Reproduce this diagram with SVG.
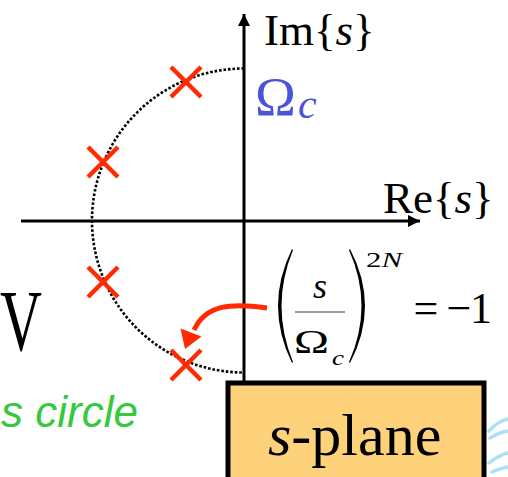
<svg xmlns="http://www.w3.org/2000/svg" width="508" height="477" viewBox="0 0 508 477">
<style>
.serif{font-family:"Liberation Serif","Times New Roman",serif;fill:#000}
.it{font-style:italic}
.axis{stroke:#000;stroke-width:3;fill:none}
.pole{stroke:#ff2a00;stroke-width:4.5;fill:none}
</style>
<defs>
<marker id="ah" viewBox="0 0 10 10" refX="10" refY="5" markerWidth="4" markerHeight="4" orient="auto" markerUnits="strokeWidth"><path d="M0,0 L10,5 L0,10 Z" fill="#000"/></marker>
</defs>
<rect width="508" height="477" fill="#fff"/>
<g id="axes">
<line class="axis" x1="21" y1="221" x2="420" y2="221" marker-end="url(#ah)"/>
<line class="axis" x1="244" y1="382" x2="244" y2="14" marker-end="url(#ah)"/>
</g>
<g id="circle">
<path d="M244 68.5 A152 152 0 0 0 244 372.5" fill="none" stroke="#000" stroke-width="2.6" stroke-dasharray="2.6 1.9"/>
</g>
<g id="poles">
<path class="pole" d="M171 67 L201 97 M171 97 L201 67"/>
<path class="pole" d="M88 147 L118 177 M88 177 L118 147"/>
<path class="pole" d="M88 267 L118 297 M88 297 L118 267"/>
<path class="pole" d="M171 350 L201 380 M171 380 L201 350"/>
</g>
<g id="im-label"><text class="serif" x="264" y="45" font-size="45">Im{<tspan class="it">s</tspan>}</text></g>
<g id="re-label"><text class="serif" x="383" y="213" font-size="45">Re{<tspan class="it">s</tspan>}</text></g>
<g id="omega-c"><text x="255" y="115" font-size="55" font-family="Liberation Serif, serif" fill="#4b53d8">Ω<tspan class="it" font-size="42" dx="2" dy="3">c</tspan></text></g>
<g id="left-V"><text class="serif" x="0" y="350" font-size="86" textLength="42" lengthAdjust="spacingAndGlyphs">V</text></g>
<g id="circle-label"><text x="138" y="427" font-size="44" font-style="italic" font-family="Liberation Sans, Arial, sans-serif" fill="#36c940" text-anchor="end">s circle</text></g>
<g id="formula">
<path d="M292 249 Q264 306 292 363 L293 362 Q270 306 293 250 Z" fill="#000"/>
<path d="M350 249 Q380 306 350 363 L349 362 Q374 306 349 250 Z" fill="#000"/>
<text class="serif it" x="320" y="298" font-size="36" text-anchor="middle">s</text>
<line x1="295" y1="312" x2="345" y2="312" stroke="#808080" stroke-width="1.6"/>
<text class="serif" x="294" y="353" font-size="33" textLength="35" lengthAdjust="spacingAndGlyphs">Ω</text>
<text class="serif it" x="332" y="365" font-size="22" textLength="12" lengthAdjust="spacingAndGlyphs">c</text>
<text class="serif" x="366" y="267" font-size="21" textLength="36" lengthAdjust="spacingAndGlyphs">2<tspan class="it">N</tspan></text>
<text class="serif" x="413.5" y="323" font-size="44">=</text>
<text class="serif" x="446.5" y="323" font-size="44">−</text>
<text class="serif" x="470" y="323" font-size="44">1</text>
</g>
<g id="connectors">
<path d="M267 308 C232 303 206 304 194 330" fill="none" stroke="#ff2a00" stroke-width="5"/>
<path d="M185 349 L180.5 328.5 L201.5 336.5 Z" fill="#ff2a00"/>
</g>
<g id="s-plane">
<rect x="228" y="383" width="256" height="110" fill="#fed27b" stroke="#000" stroke-width="5"/>
<text class="serif" x="268" y="455" font-size="60"><tspan class="it">s</tspan>-plane</text>
</g>
<g id="scribble" fill="none" stroke="#a9e2f7" stroke-width="3.5" stroke-linecap="round">
<path d="M489 431 Q498 421 508 419"/>
<path d="M490 438 Q500 432 508 431"/>
<path d="M489 463 Q499 455 508 453"/>
<path d="M492 472 Q501 468 508 467"/>
</g>
</svg>
